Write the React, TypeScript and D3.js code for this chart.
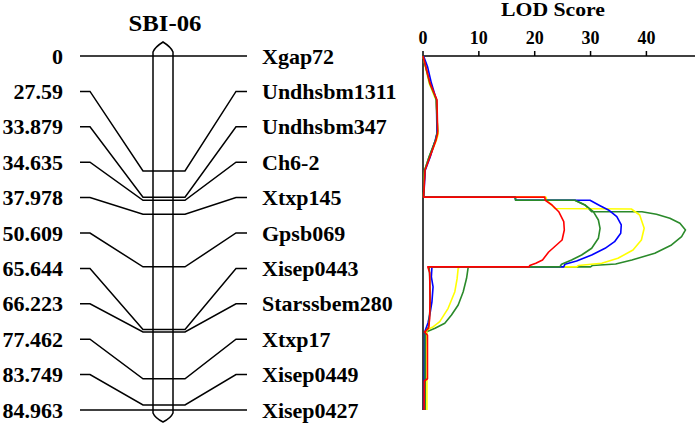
import React from 'react'
import * as d3 from 'd3'

const chromName = 'SBI-06'
const markerNames = ['Xgap72', 'Undhsbm1311', 'Undhsbm347', 'Ch6-2', 'Xtxp145', 'Gpsb069', 'Xisep0443', 'Starssbem280', 'Xtxp17', 'Xisep0449', 'Xisep0427']
const markerPos = [0, 27.59, 33.879, 34.635, 37.978, 50.609, 65.644, 66.223, 77.462, 83.749, 84.963]
const markerLabels = ['0', '27.59', '33.879', '34.635', '37.978', '50.609', '65.644', '66.223', '77.462', '83.749', '84.963']
const lodTicks = [0, 10, 20, 30, 40]

// [position cM, LOD]
const redLod = [
  [0, 0], [6.5, 1.25], [10.5, 2.5], [18.5, 2.63], [20.2, 2.33], [24.2, 1.25], [27.4, 0.36], [32.2, 0.18], [33.879, 0.1],
  [33.879, 21.8], [34.635, 21.9], [35.76, 23.1], [37.37, 24.3], [39.76, 25.2], [41.75, 25.3], [44.16, 24.9], [45.6, 23.7],
  [47.04, 22.5], [48.96, 21.4], [49.75, 20.2], [50.3, 19.1], [50.609, 19.0], [50.609, 0.85],
  [52, 1.2], [58, 1.25], [63, 1.2], [65.3, 1.0], [66.223, 0.3], [67, 0.8], [77.462, 0.8], [78, 0.25], [84.963, 0.2]
]
const blueLod = [
  [0, 0.1], [2.5, 0.8], [6.5, 1.5], [10.5, 2.4], [18.5, 2.5], [20.2, 2.2], [24.2, 1.3], [27.4, 0.4], [32.2, 0.2], [33.879, 0.1],
  [33.879, 16.5], [34.635, 16.6], [34.635, 29.9], [35.93, 31.7], [36.96, 33.2], [38.57, 34.7], [40.56, 35.5], [42.55, 35.4],
  [44.57, 34.3], [46.15, 32.6], [47.76, 30.2], [49.2, 27.5], [50.0, 25.4], [50.609, 25.2], [50.609, 1.6],
  [53, 1.5], [55.4, 1.8], [59, 1.6], [61.5, 1.3], [64, 0.9], [66.223, 0.3], [84.963, 0.2]
]
const yellowLod = [
  [0, 0], [6.5, 1.1], [10.5, 2.3], [18.8, 2.7], [20.2, 2.4], [24.2, 1.2], [27.4, 0.3], [33.879, 0.1],
  [33.879, 22.0], [34.635, 22.2], [36.6, 23.6], [36.72, 37.3], [38.16, 38.8], [41.35, 39.6], [44.16, 39.1], [46.56, 37.6],
  [48.55, 34.9], [49.75, 32.0], [50.3, 27.8], [50.609, 27.5], [50.609, 6.6],
  [50.95, 6.3], [53.5, 6.1], [56.57, 5.7], [60.56, 4.5], [63.77, 3.0], [64.97, 1.85], [65.76, 0.66], [67, 0.7], [84.963, 0.7]
]
const greenInnerLod = [
  [0, 0], [6.5, 1.2], [10.5, 2.4], [18, 2.6], [20, 2.3], [24.2, 1.1], [27.4, 0.3], [33.879, 0.1],
  [33.879, 16.5], [34.635, 16.6], [34.635, 27.2], [35.76, 29.0], [37.37, 30.5], [39.36, 31.4], [41.35, 31.7], [43.75, 31.4],
  [46.15, 30.2], [47.76, 28.4], [48.96, 26.6], [49.99, 24.8], [50.609, 24.5], [50.609, 1.1],
  [53, 1.2], [60, 1.3], [65, 1.0], [66.223, 0.4], [84.963, 0.35]
]
const greenOuterLod = [
  [0, 0], [6.5, 1.2], [10.5, 2.4], [18, 2.6], [20, 2.3], [24.2, 1.1], [27.4, 0.3], [33.879, 0.1],
  [33.879, 16.5], [34.635, 16.6], [34.635, 27.2], [35.76, 29.0], [37.37, 30.2], [37.37, 39.2], [37.99, 41.8], [38.94, 44.2],
  [40.14, 46.0], [41.75, 47.0], [43.36, 46.3], [45.35, 44.5], [47.35, 41.5], [48.96, 37.4], [49.92, 34.5], [50.3, 30.3],
  [50.609, 30.0], [50.609, 8.1],
  [53.35, 7.8], [56.57, 7.2], [59.76, 6.3], [62.16, 5.1], [64.16, 3.9], [65.36, 2.15], [66.17, 0.66], [70, 0.4], [84.963, 0.4]
]

const series = [
  { name: 'greenOuter', color: '#2a8a2a', data: greenOuterLod },
  { name: 'yellow', color: '#ffff00', data: yellowLod },
  { name: 'blue', color: '#0000ff', data: blueLod },
  { name: 'greenInner', color: '#2a8a2a', data: greenInnerLod },
  { name: 'red', color: '#ff0000', data: redLod }
]

const font = '"Liberation Serif", "Times New Roman", serif'

export default function App() {
  const width = 696
  const height = 425
  const top = 56
  const bottom = 410

  const yPos = d3.scaleLinear().domain([0, 84.963]).range([top, bottom])
  const yLabel = d3.scaleLinear().domain([0, markerNames.length - 1]).range([top, bottom])
  const xLod = d3.scaleLinear().domain([0, 48.7]).range([423, 695])

  // map geometry
  const chromL = 153, chromR = 173, chromC = 163
  const barL = 143, barR = 185
  const leftEnd = 80, leftKnee = 90, rightKnee = 236, rightEnd = 247

  const line = d3.line<number[]>().x(d => xLod(d[1])).y(d => yPos(d[0]))

  // pointed caps at both chromosome ends
  const capTop = `M${chromL},${top} L${chromL},${top - 4} Q${chromL + 2},${top - 9} ${chromC},${top - 14} Q${chromR - 2},${top - 9} ${chromR},${top - 4} L${chromR},${top}`
  const capBot = `M${chromL},${bottom} L${chromL},${bottom + 3} Q${chromL + 2},${bottom + 8} ${chromC},${bottom + 12} Q${chromR - 2},${bottom + 8} ${chromR},${bottom + 3} L${chromR},${bottom}`

  return (
    <svg width={width} height={height} style={{ position: 'absolute', left: 0, top: 0, background: '#fff' }}>
      <text x={165} y={31} textAnchor="middle" fontFamily={font} fontWeight="bold" fontSize={23} textLength={73} lengthAdjust="spacingAndGlyphs">{chromName}</text>

      {/* chromosome */}
      <g fill="none" stroke="#000" strokeWidth={1.5}>
        <line x1={chromL} x2={chromL} y1={top} y2={bottom} />
        <line x1={chromR} x2={chromR} y1={top} y2={bottom} />
        <path d={capTop} />
        <path d={capBot} />
        {markerPos.map((p, i) => {
          const my = yPos(p)
          const ly = yLabel(i)
          const d = `M${leftEnd},${ly} L${leftKnee},${ly} L${barL},${my} L${barR},${my} L${rightKnee},${ly} L${rightEnd},${ly}`
          return <path key={markerNames[i]} d={d} />
        })}
      </g>

      {markerLabels.map((l, i) => (
        <text key={'l' + i} x={63} y={yLabel(i) + 7.5} textAnchor="end" fontFamily={font} fontWeight="bold" fontSize={22}>{l}</text>
      ))}
      {markerNames.map((n, i) => (
        <text key={'r' + i} x={262} y={yLabel(i) + 7.5} fontFamily={font} fontWeight="bold" fontSize={22}>{n}</text>
      ))}

      {/* LOD panel */}
      <text x={553} y={16} textAnchor="middle" fontFamily={font} fontWeight="bold" fontSize={18} textLength={104} lengthAdjust="spacingAndGlyphs">LOD Score</text>
      <g stroke="#000" strokeWidth={1.5}>
        <line x1={xLod(0)} x2={695} y1={top} y2={top} />
        <line x1={xLod(0)} x2={xLod(0)} y1={top} y2={bottom} />
        {lodTicks.map(t => (
          <line key={t} x1={xLod(t)} x2={xLod(t)} y1={top} y2={top - 5} />
        ))}
      </g>
      {lodTicks.map(t => (
        <text key={'t' + t} x={xLod(t)} y={44} textAnchor="middle" fontFamily={font} fontWeight="bold" fontSize={18}>{t}</text>
      ))}

      <g fill="none" strokeWidth={1.6} strokeLinejoin="round">
        {series.map(s => (
          <path key={s.name} d={line(s.data) || ''} stroke={s.color} />
        ))}
      </g>
    </svg>
  )
}
